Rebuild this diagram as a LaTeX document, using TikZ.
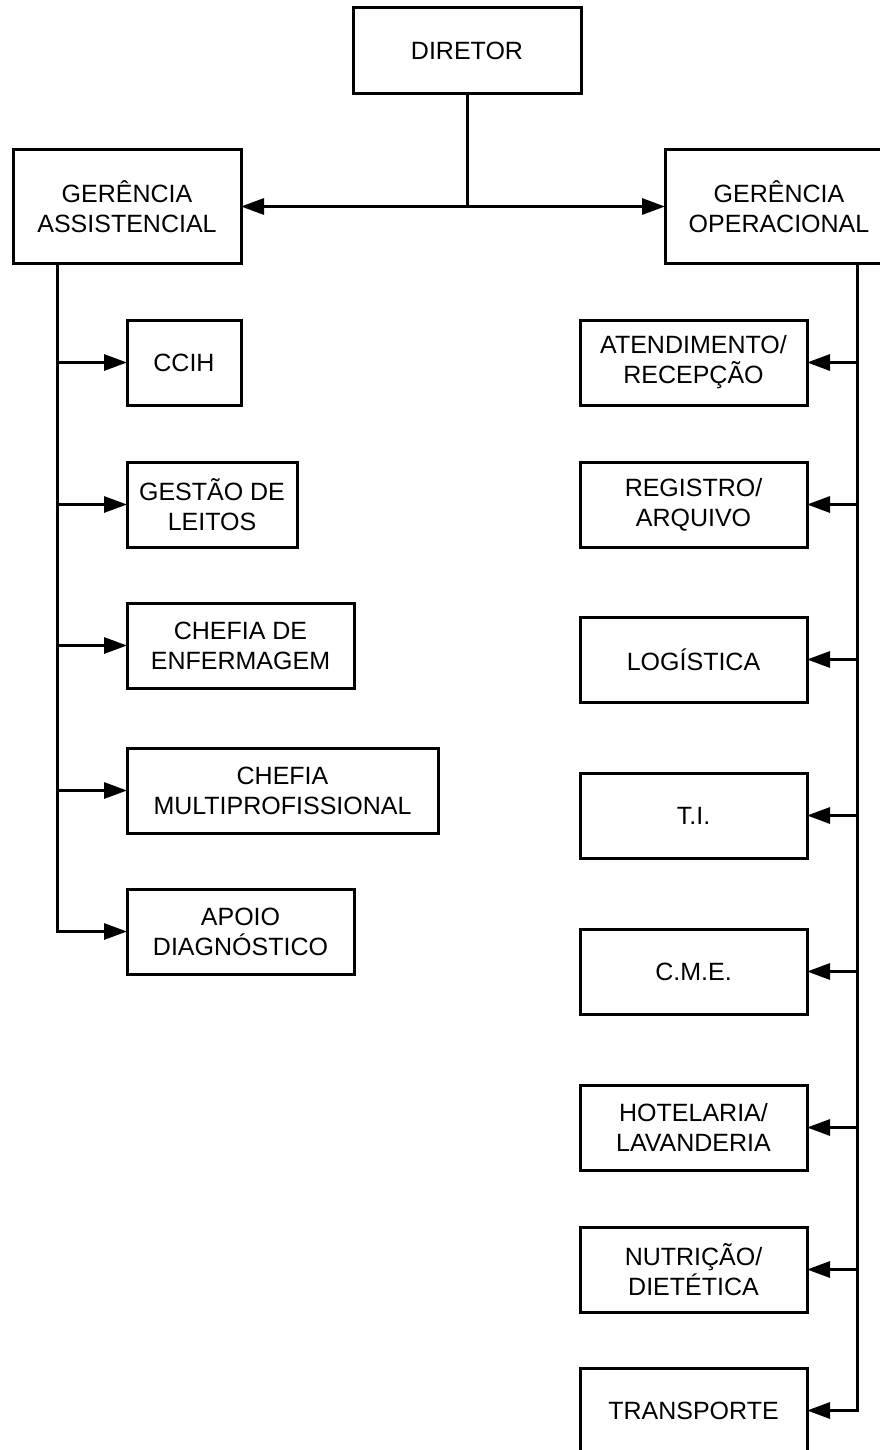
\documentclass[tikz,border=0pt]{standalone}
\usepackage{fontspec}
\setmainfont{Liberation Sans}
\usetikzlibrary{positioning, arrows.meta}
\tikzset{
	caixa/.style={draw, line width=3pt, minimum height=85pt, align=center, inner sep=0pt, outer sep=0pt}, % Caixas do organograma
	seta/.style={line width=3pt, -{Triangle[length=23pt, width=16pt]}}, % Setas com ponta cheia
	font=\fontsize{25}{30}\selectfont % Texto das caixas
}

\begin{document}
\begin{tikzpicture}[x=1pt, y=1pt]
	\useasboundingbox (0,0) rectangle (880,-1450);
	\node[caixa, minimum width=228pt, minimum height=86pt] (dir) at (467,-51) {DIRETOR};
	\node[caixa, minimum width=228pt, minimum height=113pt] (ga) at (127,-206.5) {GERÊNCIA\\ASSISTENCIAL};
	\node[caixa, minimum width=228pt, minimum height=113pt] (go) at (779,-206.5) {GERÊNCIA\\OPERACIONAL};
	% lado assistencial
	\node[caixa, minimum width=114pt, anchor=north west] (ccih) at (127,-320) {CCIH};
	\node[caixa, minimum width=170pt, below=57pt of ccih.south west, anchor=north west] (leitos) {GESTÃO DE\\LEITOS};
	\node[caixa, minimum width=227pt, below=56pt of leitos.south west, anchor=north west] (enferm) {CHEFIA DE\\ENFERMAGEM};
	\node[caixa, minimum width=311pt, below=60pt of enferm.south west, anchor=north west] (multi) {CHEFIA\\MULTIPROFISSIONAL};
	\node[caixa, minimum width=227pt, below=56pt of multi.south west, anchor=north west] (apoio) {APOIO\\DIAGNÓSTICO};
	% lado operacional
	\node[caixa, minimum width=227pt, anchor=north west] (atend) at (580,-320) {ATENDIMENTO/\\RECEPÇÃO};
	\node[caixa, minimum width=227pt, below=57pt of atend] (regis) {REGISTRO/\\ARQUIVO};
	\node[caixa, minimum width=227pt, below=70pt of regis] (logis) {LOGÍSTICA};
	\node[caixa, minimum width=227pt, below=71pt of logis] (ti) {T.I.};
	\node[caixa, minimum width=227pt, below=71pt of ti] (cme) {C.M.E.};
	\node[caixa, minimum width=227pt, below=71pt of cme] (hotel) {HOTELARIA/\\LAVANDERIA};
	\node[caixa, minimum width=227pt, below=57pt of hotel] (nutri) {NUTRIÇÃO/\\DIETÉTICA};
	\node[caixa, minimum width=227pt, below=56pt of nutri] (transp) {TRANSPORTE};
	\coordinate (ta) at ([xshift=44pt]ga.south west);
	\coordinate (to) at ([xshift=192pt]go.south west);
	\draw[seta] (dir.south) |- (ga.east);
	\draw[seta] (dir.south) |- (go.west);
	\draw[seta] (ta) |- (ccih.west);
	\draw[seta] (ta) |- (leitos.west);
	\draw[seta] (ta) |- (enferm.west);
	\draw[seta] (ta) |- (multi.west);
	\draw[seta] (ta) |- (apoio.west);
	\draw[seta] (to) |- (atend.east);
	\draw[seta] (to) |- (regis.east);
	\draw[seta] (to) |- (logis.east);
	\draw[seta] (to) |- (ti.east);
	\draw[seta] (to) |- (cme.east);
	\draw[seta] (to) |- (hotel.east);
	\draw[seta] (to) |- (nutri.east);
	\draw[seta] (to) |- (transp.east);
\end{tikzpicture}
\end{document}
